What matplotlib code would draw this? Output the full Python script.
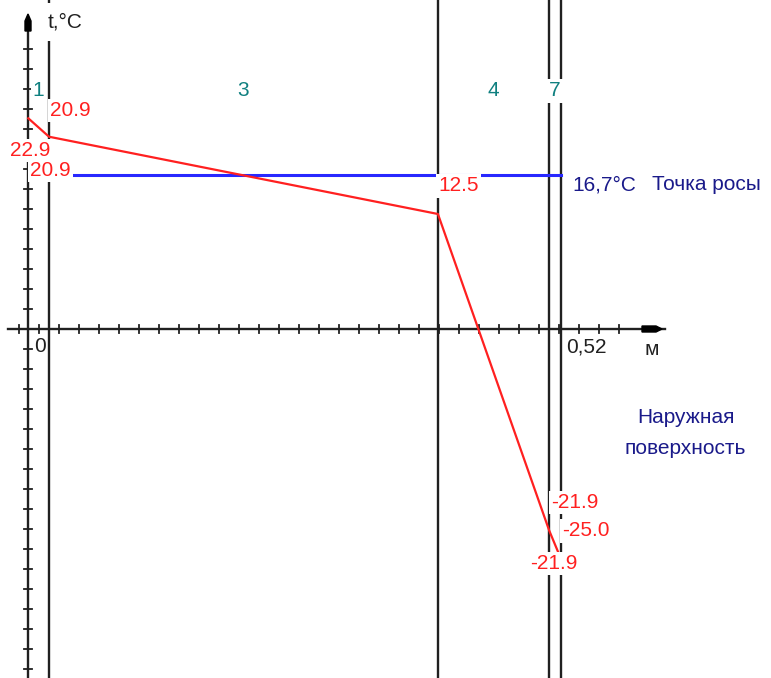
import matplotlib
import matplotlib.pyplot as plt
import numpy as np

plt.switch_backend('agg')
plt.rcParams['font.family'] = ['Liberation Sans', 'DejaVu Sans']

# layer boundaries through the wall, m (first span is the inner boundary layer)
layer_edges = [-0.021, 0.0, 0.395, 0.508, 0.52]
layer_names = ['1', '3', '4', '7']

# temperature profile: inner air, inner surface, layer joint, outer surface, outer air
prof_x = [-0.021, 0.0, 0.395, 0.508, 0.52]
prof_t = [22.9, 20.9, 12.5, -21.9, -25.0]

t_dew = 16.7
wall_len = 0.52

# figure geometry (pixels)
W, H = 771, 678
x0_px, y0_px = 49, 329      # where x=0 and t=0 sit
kx = 512 / 0.52             # px per metre
kt = 9.2                    # px per degree

fig = plt.figure(figsize=(W / 100, H / 100), dpi=100)
ax = fig.add_axes([0, 0, 1, 1])
ax.set_xlim(-x0_px / kx, (W - x0_px) / kx)
ax.set_ylim(-(H - y0_px) / kt, y0_px / kt)
ax.axis('off')


def px(x, y):
    # pixel position -> data coords
    return (x - x0_px) / kx, (y0_px - y) / kt


axc = '#202020'
lw = 1.7

# axes with arrows and ticks
yax = layer_edges[0]
ax.plot([yax, yax], [px(0, H)[1], px(0, 28)[1]], color=axc, lw=lw, zorder=2)
ax.plot([px(8, 0)[0], px(665, 0)[0]], [0, 0], color=axc, lw=lw, zorder=2)
xa = [px(p[0] + 28, p[1]) for p in [(0, 14), (3, 21), (3, 31), (-3, 31), (-3, 21)]]
ax.fill([p[0] for p in xa], [p[1] for p in xa], color='black', zorder=3)
ya = [px(p[0], p[1]) for p in [(662, 329), (656, 326), (642, 326), (642, 332), (656, 332)]]
ax.fill([p[0] for p in ya], [p[1] for p in ya], color='black', zorder=3)
for i in range(31):
    xd = px(19 + 20 * i, 0)[0]
    ax.plot([xd, xd], [px(0, 325)[1], px(0, 333)[1]], color=axc, lw=1.3, zorder=2)
for i in range(32):
    yd = px(0, 49 + 20 * i)[1]
    ax.plot([px(24, 0)[0], px(32, 0)[0]], [yd, yd], color=axc, lw=1.3, zorder=2)

# layer boundaries
for xe in layer_edges[1:]:
    ax.plot([xe, xe], [px(0, H)[1], px(0, 0)[1]], color=axc, lw=lw, zorder=2)

# dew point and temperature profile
ax.plot([0, wall_len], [t_dew, t_dew], color='#2828ff', lw=2.2, zorder=2)
ax.plot(prof_x, prof_t, color='#ff2020', lw=1.6, zorder=2)

box = dict(fc='white', ec='none', pad=1.5)
fs = 15
teal = '#108080'
navy = '#1a1a8a'
red = '#ff2020'

for i, name in enumerate(layer_names):
    xm = (layer_edges[i] + layer_edges[i + 1]) / 2
    ax.text(xm, px(0, 91)[1], name, ha='center', va='center', fontsize=fs,
            color=teal, bbox=box, zorder=5)

tx, ty = px(48, 22)
ax.text(tx, ty, 't,°C', ha='left', va='center', fontsize=fs, color=axc,
        bbox=dict(fc='white', ec='none', pad=7), zorder=5)


def val(i, dx, dy, ha='left'):
    ax.annotate(f'{prof_t[i]:.1f}', xy=(prof_x[i], prof_t[i]), xytext=(dx, dy),
                textcoords='offset pixels', ha=ha, va='center', fontsize=fs,
                color=red, bbox=box, zorder=5)


val(0, 2, -32, 'center')
val(1, 1, 26)
val(1, -19, -34)
val(2, 0, 28)
val(3, 2, 28)
val(3, -19, -33)
val(4, 1, 28)

ax.text(*px(572, 185), f'{t_dew:.1f}°C'.replace('.', ','), ha='left', va='center',
        fontsize=fs, color=navy, zorder=5)
ax.text(*px(652, 185), 'Точка росы', ha='left', va='center', fontsize=fs,
        color=navy, zorder=5)
ax.text(*px(686, 418), 'Наружная', ha='center', va='center', fontsize=fs,
        color=navy, zorder=5)
ax.text(*px(685, 449), 'поверхность', ha='center', va='center', fontsize=fs,
        color=navy, zorder=5)

ax.text(*px(34, 347), '0', ha='left', va='center', fontsize=fs, color=axc, zorder=5)
ax.text(*px(566, 347), f'{wall_len:.2f}'.replace('.', ','), ha='left', va='center',
        fontsize=fs, color=axc, zorder=5)
ax.text(*px(645, 350), 'м', ha='left', va='center', fontsize=fs, color=axc, zorder=5)

plt.savefig('out.png', dpi=100)
